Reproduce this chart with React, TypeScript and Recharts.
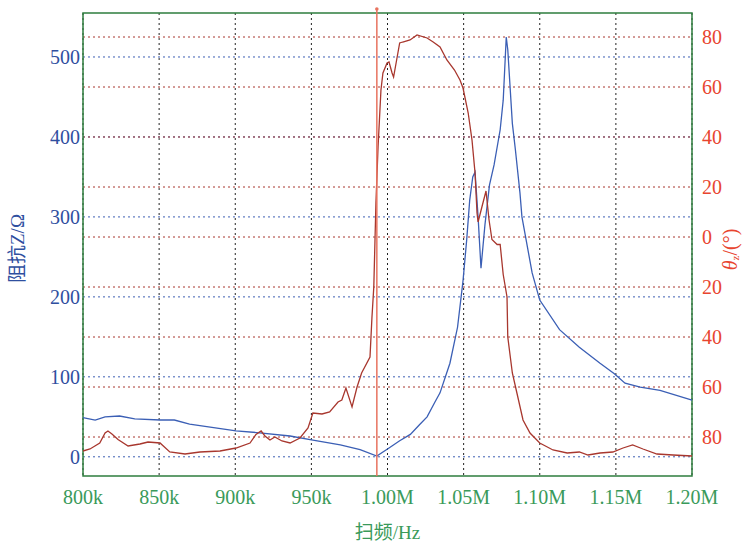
import React from 'react';
import { LineChart, Line, XAxis, YAxis, CartesianGrid, ReferenceLine, ReferenceArea, ReferenceDot } from 'recharts';

// impedance |Z| (ohm) vs sweep frequency (kHz)
const zFreq = [800, 808, 814.5, 824, 834, 850.6, 860, 870, 900.5, 916, 936, 951, 969, 982, 993, 1001, 1008, 1015, 1021, 1026, 1031, 1034.5, 1041, 1046, 1049.6, 1052, 1054, 1056, 1057.5, 1059.5, 1061.4, 1064, 1067, 1070, 1074, 1076, 1078, 1079, 1082, 1084, 1087, 1088.3, 1095, 1100, 1113, 1126, 1139.6, 1149, 1156, 1166, 1179, 1200];
const zValues = [49, 46, 50, 51, 47.5, 46, 46, 41, 32.5, 30, 26, 21, 15, 9, 1, 11, 20, 28, 40, 50, 68, 80, 117, 162, 220, 271, 321, 350, 356, 300, 236, 290, 340, 365, 409, 446, 525, 509, 417, 384, 330, 300, 230, 196, 159, 137, 117, 104, 92, 87, 83, 71];

// phase angle (deg) vs sweep frequency (kHz)
const thFreq = [800, 804.6, 811, 814.5, 816.4, 819, 823, 829.6, 837.4, 842.7, 850.6, 857, 867, 876.8, 890, 900.5, 909.7, 913.6, 917, 919.5, 922.8, 926, 930.7, 936, 942.5, 947.8, 951, 957, 962, 967.5, 970, 972.7, 976.7, 980, 983, 988.5, 989.8, 991, 992.4, 993.8, 995.7, 997, 999.7, 1001, 1003, 1004, 1006, 1008, 1010, 1014.8, 1019.4, 1026, 1030, 1034.5, 1039, 1044, 1047.6, 1049.6, 1053, 1055.5, 1057.5, 1058.8, 1059.5, 1062, 1064.7, 1066.7, 1068.6, 1072, 1074, 1076, 1078.5, 1079, 1082, 1085, 1089, 1093.6, 1100, 1108.7, 1118, 1126, 1131.7, 1139.6, 1148, 1154.7, 1161, 1167.8, 1177, 1187.5, 1200];
const thValues = [-85.6, -84.8, -82.4, -78.4, -77.6, -78.8, -81, -83.6, -82.8, -82, -82.4, -86, -86.8, -86, -85.6, -84.4, -82.4, -79, -77.6, -79.6, -81.2, -80, -81.6, -82.4, -80.4, -76.4, -70.4, -70.8, -70, -66, -65.2, -60.4, -68, -60, -54.4, -48, -32, -20, 13.6, 36, 58.8, 65.6, 69.6, 70, 65.6, 64, 70.8, 77.6, 78, 78.8, 80.8, 79.6, 78, 76, 70.8, 66.8, 62.8, 59.6, 49.6, 38.8, 25.6, 9.6, 6, 12, 18.4, 6.8, -1, -3, -3, -15, -24, -40, -54.4, -62.4, -73.2, -78.4, -82.4, -85.2, -86.4, -86, -87.2, -86.4, -86, -84.4, -83.2, -84.8, -86.8, -87.2, -87.6];

const freqTicks = [800, 850, 900, 950, 1000, 1050, 1100, 1150, 1200];
const zTicks = [0, 100, 200, 300, 400, 500];
const thTicks = [-80, -60, -40, -20, 0, 20, 40, 60, 80];
const cursorFreq = 993;

const zData = zFreq.map((f, i) => ({ f, z: zValues[i] }));
const thData = thFreq.map((f, i) => ({ f, th: thValues[i] }));

const BLUE = '#2f4f9f';
const RED = '#e8452f';
const GREEN = '#3a9a5a';
const SERIF = '"Liberation Serif", "Noto Sans CJK SC", serif';

const fmtFreq = (v: number) => (v < 1000 ? `${v}k` : `${(v / 1000).toFixed(2)}M`);

const LeftTitle = ({ viewBox }: any) => {
  const x = 20;
  const y = viewBox.y + viewBox.height / 2 + 4;
  return (
    <text x={x} y={y} transform={`rotate(-90 ${x} ${y})`} textAnchor="middle" dominantBaseline="middle"
      fill={BLUE} fontSize={19} fontFamily={SERIF}>阻抗Z/Ω</text>
  );
};

const RightTitle = ({ viewBox }: any) => {
  const x = viewBox.x + 40;
  const y = viewBox.y + viewBox.height / 2 + 5;
  return (
    <text x={x} y={y} transform={`rotate(-90 ${x} ${y})`} textAnchor="middle" dominantBaseline="middle"
      fill={RED} fontSize={20} fontFamily={SERIF}>
      <tspan fontStyle="italic">θ</tspan>
      <tspan fontSize={11} dy={4}>z</tspan>
      <tspan dy={-4}>/(°)</tspan>
    </text>
  );
};

export default function App() {
  return (
    <div style={{ position: 'absolute', left: 0, top: 0, background: '#fff' }}>
      <LineChart width={747} height={542} margin={{ top: 13, right: 0, bottom: 0, left: 0 }}>
        <CartesianGrid horizontal={false} stroke="#222" strokeDasharray="2 3" />
        <CartesianGrid vertical={false} yAxisId="left" horizontalValues={zTicks} stroke="#3d5fb3" strokeDasharray="2 3" />
        <CartesianGrid vertical={false} yAxisId="right" horizontalValues={thTicks} stroke="#a8372e" strokeDasharray="2 3" />
        <XAxis
          dataKey="f"
          type="number"
          domain={[800, 1200]}
          ticks={freqTicks}
          tickFormatter={fmtFreq}
          height={66}
          axisLine={false}
          tickLine={false}
          tickSize={0}
          tickMargin={14}
          allowDuplicatedCategory={false}
          tick={{ fill: GREEN, fontSize: 20, fontFamily: SERIF }}
          label={{ value: '扫频/Hz', position: 'insideBottom', offset: 3, fill: GREEN, fontSize: 19, fontFamily: SERIF }}
        />
        <YAxis
          yAxisId="left"
          domain={[-24, 555]}
          ticks={zTicks}
          allowDataOverflow
          width={83}
          axisLine={false}
          tickLine={false}
          tickSize={0}
          tickMargin={3}
          tick={{ fill: BLUE, fontSize: 20, fontFamily: SERIF }}
          label={<LeftTitle />}
        />
        <YAxis
          yAxisId="right"
          orientation="right"
          domain={[-95.6, 89.6]}
          ticks={thTicks}
          allowDataOverflow
          width={55}
          axisLine={false}
          tickLine={false}
          tickSize={0}
          tickMargin={10}
          tickFormatter={(v: number) => `${Math.abs(v)}`}
          tick={{ fill: RED, fontSize: 20, fontFamily: SERIF }}
          label={<RightTitle />}
        />
        <ReferenceArea yAxisId="left" x1={800} x2={1200} y1={-24} y2={555} fill="none" stroke="#2e7d3e" strokeWidth={1.5} />
        <Line yAxisId="left" data={zData} dataKey="z" stroke="#3b5fb5" strokeWidth={1.3} dot={false} isAnimationActive={false} />
        <Line yAxisId="right" data={thData} dataKey="th" stroke="#a8372e" strokeWidth={1.3} dot={false} isAnimationActive={false} />
        <ReferenceLine
          yAxisId="left"
          segment={[{ x: cursorFreq, y: -24 }, { x: cursorFreq, y: 560 }]}
          ifOverflow="visible"
          stroke="#e8735f"
          strokeWidth={1.5}
        />
        <ReferenceDot yAxisId="left" x={cursorFreq} y={560} r={1.8} fill="#e8735f" stroke="none" ifOverflow="visible" />
      </LineChart>
    </div>
  );
}
